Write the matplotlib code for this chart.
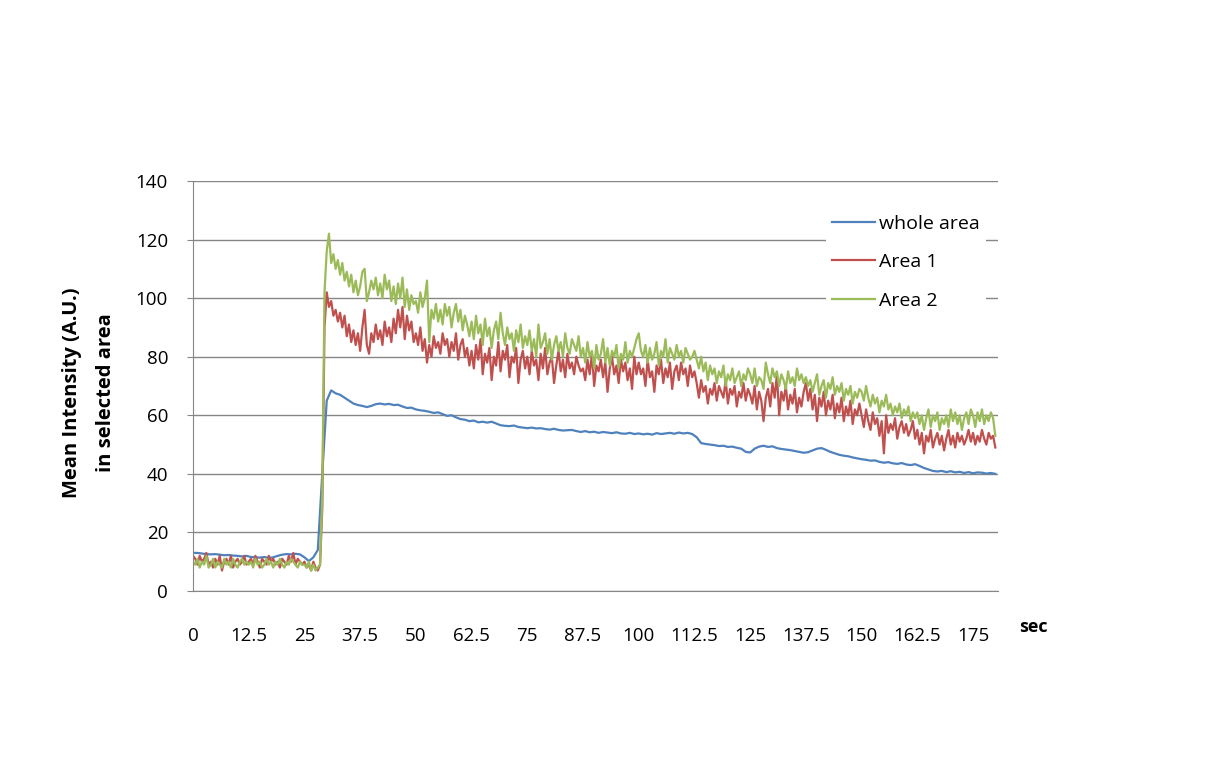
import numpy as np
import matplotlib
matplotlib.use("Agg")
import matplotlib.pyplot as plt

# time axes (sec)
t_fast = np.arange(361) * 0.5      # Area 1 / Area 2 sampled every 0.5 s
t_slow = np.arange(181) * 1.0      # whole area read every 1 s

whole_area = [
    13, 13, 12.8, 12.6, 12.5, 12.6, 12.4, 12.2, 12.3, 12.1,
    12, 11.8, 12, 11.6, 11.5, 11.4, 11.6, 11.3, 11.5, 12,
    12.4, 12.6, 12.5, 12.7, 12.5, 11.5, 10.2, 11.5,
    14, 40, 65, 68.5, 67.5, 67, 66, 65, 64,
    63.5, 63.2, 62.8, 63.2, 63.8, 64, 63.7, 63.9, 63.5, 63.6,
    63, 62.5, 62.6, 62, 61.7, 61.5, 61.2, 60.8, 61, 60.4,
    59.8, 60, 59.3, 58.7, 58.5, 58, 58.2, 57.6, 57.8, 57.5,
    57.8, 57.2, 56.6, 56.4, 56.3, 56.5, 56, 55.8, 55.6, 55.8,
    55.5, 55.6, 55.3, 55.1, 55.4, 55, 54.8, 54.9, 55, 54.6,
    54.3, 54.6, 54.2, 54.4, 54, 54.3, 54.1, 53.9, 54.2, 53.8,
    53.7, 54, 53.6, 53.8, 53.5, 53.7, 53.4, 53.9, 53.6, 53.8,
    54, 53.7, 54.1, 53.8, 54, 53.6, 52.5, 50.5, 50.2, 50,
    49.8, 49.5, 49.6, 49.2, 49.3, 48.9, 48.6, 47.5, 47.3, 48.6,
    49.3, 49.6, 49.2, 49.4, 48.8, 48.5, 48.3, 48.1, 47.8, 47.5,
    47.2, 47.4, 48, 48.6, 48.8, 48.2, 47.5, 47, 46.5, 46.2,
    46, 45.6, 45.3, 45, 44.8, 44.5, 44.6, 44.1, 43.8, 44,
    43.6, 43.4, 43.7, 43.2, 43, 43.3, 42.7, 42, 41.5, 41,
    40.8, 41, 40.6, 40.9, 40.5, 40.7, 40.3, 40.6, 40.2, 40.5,
    40.4, 40.1, 40.3, 40,
]

area_1 = [
    12, 11, 9, 12, 10, 11, 13, 9, 10, 8, 11, 9, 12, 7, 10, 11, 9, 12, 8, 10, 11, 9, 10, 12, 9,
    10, 11, 9, 12, 10, 8, 11, 10, 9, 12, 10, 11, 9, 10, 8, 11, 10, 9, 12, 10, 13, 9, 11, 10, 9,
    10, 8, 9, 7, 10, 8, 7, 9, 28, 90, 102, 97, 99, 94, 96, 92, 95, 90, 94, 87, 91, 85, 89, 84, 88,
    82, 90, 96, 84, 81, 88, 85, 91, 86, 89, 84, 92, 87, 90, 85, 93, 88, 96, 90, 97, 86, 94, 89, 92, 85,
    88, 84, 90, 82, 86, 78, 84, 80, 87, 83, 85, 81, 88, 84, 86, 80, 85, 82, 88, 79, 84, 86, 80, 83, 77,
    82, 76, 84, 79, 86, 74, 81, 78, 83, 72, 80, 77, 85, 75, 82, 79, 84, 73, 80, 78, 83, 71, 79, 82, 76,
    80, 74, 82, 77, 79, 72, 81, 76, 83, 74, 78, 80, 71, 77, 82, 75, 79, 73, 81, 76, 78, 74, 80, 77, 75,
    76, 72, 79, 74, 81, 70, 77, 75, 79, 73, 78, 68, 76, 80, 74, 77, 71, 79, 75, 78, 72, 76, 69, 80, 74,
    78, 74, 76, 70, 79, 73, 75, 68, 77, 74, 79, 71, 76, 73, 78, 69, 75, 77, 72, 78, 74, 76, 70, 77, 73,
    75, 71, 66, 72, 68, 70, 64, 69, 67, 71, 65, 70, 68, 66, 72, 64, 69, 67, 70, 63, 68, 66, 71, 65, 69,
    67, 64, 70, 62, 68, 65, 58, 66, 69, 63, 71, 66, 74, 60, 68, 65, 70, 62, 67, 64, 69, 61, 66, 63, 68,
    71, 65, 69, 62, 67, 58, 66, 63, 68, 60, 65, 62, 67, 59, 64, 61, 66, 58, 63, 60, 65, 57, 62, 60, 64,
    60, 56, 62, 58, 55, 61, 57, 59, 53, 58, 47, 60, 54, 57, 55, 59, 52, 56, 58, 54, 57, 53, 55, 58, 52,
    55, 50, 54, 47, 53, 51, 55, 49, 52, 54, 50, 53, 48, 52, 55, 50, 53, 49, 54, 51, 53, 50, 52, 55, 51,
    54, 50, 53, 51, 55, 52, 50, 54, 52, 53, 49,
]

area_2 = [
    10, 9, 11, 8, 10, 9, 12, 8, 9, 11, 8, 10, 9, 8, 11, 9, 10, 8, 11, 9, 8, 10, 11, 9, 10,
    9, 10, 8, 11, 9, 10, 8, 9, 11, 9, 10, 8, 10, 9, 11, 9, 8, 10, 9, 11, 10, 9, 8, 10, 9,
    9, 8, 10, 7, 9, 7, 8, 9, 32, 102, 116, 122, 112, 115, 110, 113, 108, 112, 106, 109, 104, 108, 102, 106, 101,
    104, 109, 110, 99, 102, 106, 103, 107, 101, 105, 100, 108, 103, 106, 99, 104, 98, 105, 100, 107, 97, 103, 96, 101, 98,
    99, 95, 102, 97, 100, 106, 85, 96, 93, 98, 92, 96, 91, 98, 94, 97, 90, 95, 98, 92, 96, 89, 94, 91, 87,
    92, 86, 94, 88, 91, 84, 93, 87, 90, 83, 89, 92, 86, 95, 88, 84, 90, 86, 88, 82, 89, 85, 91, 83, 87,
    84, 89, 82, 86, 80, 91, 83, 85, 88, 81, 86, 79, 84, 87, 82, 85, 80, 88, 83, 81, 86, 84, 82, 87, 80,
    83, 78, 85, 80, 82, 76, 84, 79, 81, 86, 78, 83, 77, 82, 80, 84, 76, 81, 79, 85, 78, 82, 80, 83, 86,
    88, 82, 80, 84, 78, 83, 79, 81, 85, 77, 82, 80, 86, 78, 83, 81, 79, 84, 80, 82, 78, 83, 81, 79, 80,
    82, 79, 76, 80, 75, 78, 72, 77, 74, 76, 71, 75, 73, 77, 70, 74, 72, 76, 71, 73, 75, 70, 74, 72, 76,
    74, 71, 76, 70, 73, 72, 69, 78, 74, 71, 76, 73, 75, 70, 74, 72, 69, 75, 71, 73, 70, 76, 72, 74, 71,
    73, 70, 72, 68, 71, 74, 67, 70, 72, 66, 71, 69, 73, 67, 70, 68, 71, 65, 69, 67, 70, 64, 68, 66, 69,
    68, 65, 70, 66, 63, 67, 64, 66, 61, 65, 63, 67, 62, 64, 60, 63, 61, 64, 59, 62, 60, 63, 58, 61, 59,
    61, 57, 60, 55, 59, 62, 56, 60, 58, 61, 55, 59, 57, 60, 56, 62, 58, 61, 57, 60, 55, 59, 61, 57, 62,
    60, 56, 61, 58, 62, 57, 60, 58, 61, 59, 53,
]

x_ticks = np.arange(0, 176, 12.5)
x_tick_labels = ["0", "12.5", "25", "37.5", "50", "62.5", "75", "87.5",
                 "100", "112.5", "125", "137.5", "150", "162.5", "175"]
y_ticks = np.arange(0, 141, 20)

plt.rcParams["font.family"] = ["Open Sans", "DejaVu Sans"]

fig = plt.figure(figsize=(12.26, 7.59), dpi=100)
ax = fig.add_axes([193 / 1226, 1 - 591 / 759, 805 / 1226, 410 / 759])

ax.plot(t_slow, whole_area, color="#4F81BD", lw=1.6, label="whole area")
ax.plot(t_fast, area_1, color="#C0504D", lw=1.6, label="Area 1")
ax.plot(t_fast, area_2, color="#9BBB59", lw=1.6, label="Area 2")

ax.set_xlim(0, 180.6)
ax.set_ylim(0, 140)
ax.set_xticks(x_ticks)
ax.set_xticklabels(x_tick_labels)
ax.set_yticks(y_ticks)
ax.grid(axis="y", color="#868686", lw=1.0)
ax.set_axisbelow(True)
for s in ["top", "right"]:
    ax.spines[s].set_visible(False)
for s in ["left", "bottom"]:
    ax.spines[s].set_color("#868686")
ax.tick_params(axis="x", length=0, pad=26, labelsize=13.5)
ax.tick_params(axis="y", length=4, color="#868686", pad=14, labelsize=13.5)

fig.text(72 / 1226, 1 - 393 / 759, "Mean Intensity (A.U.)", rotation=90,
         ha="center", va="center", fontsize=14.5, fontweight="bold")
fig.text(106 / 1226, 1 - 393 / 759, "in selected area", rotation=90,
         ha="center", va="center", fontsize=14.5, fontweight="bold")
fig.text(1033 / 1226, 1 - 627 / 759, "sec", ha="center", va="center",
         fontsize=13, fontweight="bold")

leg = ax.legend(loc="upper left", bbox_to_anchor=(826 / 1226, 1 - 209 / 759),
                bbox_transform=fig.transFigure, frameon=True, fancybox=False,
                fontsize=14, handlelength=2.2, handletextpad=0.25,
                labelspacing=1.05, borderpad=0.3, borderaxespad=0)
leg.get_frame().set_edgecolor("none")
leg.get_frame().set_facecolor("white")
leg.get_frame().set_alpha(1)

fig.savefig("out.png", dpi=100)
